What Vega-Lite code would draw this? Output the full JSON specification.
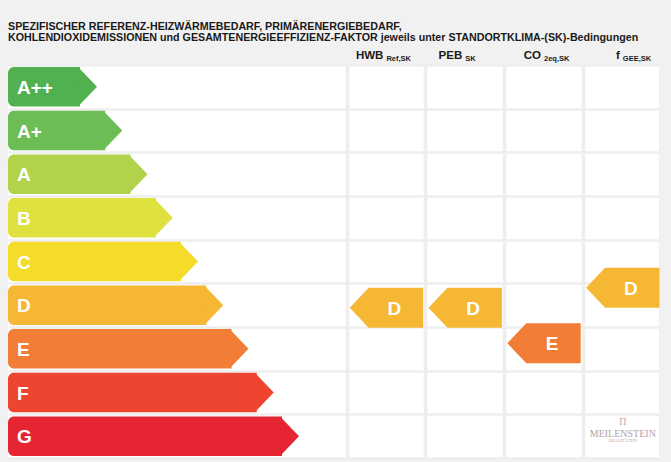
{
  "$schema": "https://vega.github.io/schema/vega-lite/v6.json",
  "width": 651,
  "height": 393,
  "autosize": {"type": "none"},
  "padding": {"left": 8, "top": 65, "right": 12, "bottom": 4},
  "background": "#f1f1f1",
  "view": {"fill": "#ffffff", "stroke": null},
  "config": {
    "axis": {"labels": false, "ticks": false, "domain": false, "title": null},
    "text": {"font": "Liberation Sans"},
    "title": {"font": "Liberation Sans"}
  },
  "title": {
    "text": [
      "SPEZIFISCHER REFERENZ-HEIZWÄRMEBEDARF, PRIMÄRENERGIEBEDARF,",
      "KOHLENDIOXIDEMISSIONEN und GESAMTENERGIEEFFIZIENZ-FAKTOR jeweils unter STANDORTKLIMA-(SK)-Bedingungen"
    ],
    "anchor": "start",
    "frame": "group",
    "fontSize": 10.7,
    "fontWeight": "bold",
    "color": "#1a1a1a",
    "lineHeight": 11,
    "baseline": "bottom",
    "offset": -3
  },
  "datasets": {
    "classes": [
      {"cls": "A++", "rank": 1},
      {"cls": "A+", "rank": 2},
      {"cls": "A", "rank": 3},
      {"cls": "B", "rank": 4},
      {"cls": "C", "rank": 5},
      {"cls": "D", "rank": 6},
      {"cls": "E", "rank": 7},
      {"cls": "F", "rank": 8},
      {"cls": "G", "rank": 9}
    ],
    "columns": [
      {"col": "HWB", "main": "HWB", "sub": "Ref,SK"},
      {"col": "PEB", "main": "PEB", "sub": "SK"},
      {"col": "CO2", "main": "CO", "sub": "2eq,SK"},
      {"col": "GEE", "main": "f", "sub": "GEE,SK"}
    ],
    "ratings": [
      {"col": "HWB", "cls": "D", "pos": 6.06},
      {"col": "PEB", "cls": "D", "pos": 6.06},
      {"col": "CO2", "cls": "E", "pos": 6.87},
      {"col": "GEE", "cls": "D", "pos": 5.6}
    ],
    "logo": [{"col": "GEE", "icon": "Π", "name": "MEILENSTEIN", "sub": "REALITÄTEN"}]
  },
  "resolve": {"scale": {"x": "independent"}},
  "layer": [
    {
      "data": {"name": "classes"},
      "layer": [
        {
          "mark": {"type": "rect", "xOffset": -17, "yOffset": -19.75, "y2Offset": 19.75, "cornerRadiusTopLeft": 6, "cornerRadiusBottomLeft": 6},
          "encoding": {
            "x": {"field": "rank", "type": "quantitative", "scale": {"domain": [-2.525, 23.257], "nice": false, "zero": false}, "axis": null},
            "x2": {"value": 0},
            "y": {"field": "rank", "type": "quantitative", "scale": {"domain": [0.5, 9.5], "nice": false, "zero": false, "reverse": true},
                  "axis": {"values": [0.5, 1, 1.5, 2, 2.5, 3, 3.5, 4, 4.5, 5, 5.5, 6, 6.5, 7, 7.5, 8, 8.5, 9, 9.5], "grid": true, "gridColor": "#eeeeee", "gridWidth": 2.7}},
            "y2": {"field": "rank"},
            "color": {"field": "cls", "type": "nominal", "legend": null,
                      "scale": {"domain": ["A++", "A+", "A", "B", "C", "D", "E", "F", "G"],
                                "range": ["#51b150", "#6cbd55", "#b1d34b", "#dfe13e", "#f5dc2a", "#f6b734", "#f27d36", "#ee4530", "#e52532"]}}
          }
        },
        {
          "mark": {"type": "point", "shape": "M -0.96 -1 L 0 0 L -0.96 1 Z", "size": 1560, "filled": true, "opacity": 1, "strokeWidth": 0},
          "encoding": {
            "x": {"field": "rank", "type": "quantitative", "scale": {"domain": [-2.525, 23.257], "nice": false, "zero": false}, "axis": null},
            "y": {"field": "rank", "type": "quantitative", "scale": {"domain": [0.5, 9.5], "nice": false, "zero": false, "reverse": true}},
            "color": {"field": "cls", "type": "nominal", "legend": null}
          }
        },
        {
          "mark": {"type": "text", "align": "left", "baseline": "middle", "fontWeight": "bold", "fontSize": 19, "color": "#ffffff", "dy": 1},
          "encoding": {
            "x": {"value": 9},
            "y": {"field": "rank", "type": "quantitative", "scale": {"domain": [0.5, 9.5], "nice": false, "zero": false, "reverse": true}},
            "text": {"field": "cls"}
          }
        }
      ]
    },
    {
      "layer": [
        {
          "data": {"name": "ratings"},
          "mark": {"type": "point", "shape": "M 1.835 -1 L -0.885 -1 L -1.835 0 L -0.885 1 L 1.835 1 Z", "size": 1600, "filled": true, "opacity": 1, "strokeWidth": 0},
          "encoding": {
            "x": {"field": "col", "type": "nominal", "sort": null,
                  "scale": {"type": "band", "domain": ["HWB", "PEB", "CO2", "GEE"], "range": [339, 654.2], "paddingInner": 0, "paddingOuter": 0},
                  "axis": {"grid": true, "bandPosition": 0, "gridColor": "#eeeeee", "gridWidth": 3.6}},
            "y": {"field": "pos", "type": "quantitative", "scale": {"domain": [0.5, 9.5], "nice": false, "zero": false, "reverse": true}},
            "color": {"field": "cls", "type": "nominal", "legend": null}
          }
        },
        {
          "data": {"name": "ratings"},
          "mark": {"type": "text", "align": "center", "baseline": "middle", "fontWeight": "bold", "fontSize": 19, "color": "#ffffff", "dx": 8, "dy": 1},
          "encoding": {
            "x": {"field": "col", "type": "nominal", "sort": null,
                  "scale": {"type": "band", "domain": ["HWB", "PEB", "CO2", "GEE"], "range": [339, 654.2], "paddingInner": 0, "paddingOuter": 0}},
            "y": {"field": "pos", "type": "quantitative", "scale": {"domain": [0.5, 9.5], "nice": false, "zero": false, "reverse": true}},
            "text": {"field": "cls"}
          }
        },
        {
          "data": {"name": "columns"},
          "mark": {"type": "text", "align": "right", "baseline": "alphabetic", "fontWeight": "bold", "fontSize": 11.5, "color": "#1a1a1a", "dx": -3},
          "encoding": {
            "x": {"field": "col", "type": "nominal", "sort": null,
                  "scale": {"type": "band", "domain": ["HWB", "PEB", "CO2", "GEE"], "range": [339, 654.2], "paddingInner": 0, "paddingOuter": 0}},
            "y": {"datum": 0.37, "type": "quantitative", "scale": {"domain": [0.5, 9.5], "nice": false, "zero": false, "reverse": true}},
            "text": {"field": "main"}
          }
        },
        {
          "data": {"name": "columns"},
          "mark": {"type": "text", "align": "left", "baseline": "alphabetic", "fontWeight": "bold", "fontSize": 7.5, "color": "#1a1a1a", "dx": 0, "dy": 2},
          "encoding": {
            "x": {"field": "col", "type": "nominal", "sort": null,
                  "scale": {"type": "band", "domain": ["HWB", "PEB", "CO2", "GEE"], "range": [339, 654.2], "paddingInner": 0, "paddingOuter": 0}},
            "y": {"datum": 0.37, "type": "quantitative", "scale": {"domain": [0.5, 9.5], "nice": false, "zero": false, "reverse": true}},
            "text": {"field": "sub"}
          }
        },
        {
          "data": {"name": "logo"},
          "mark": {"type": "text", "align": "center", "baseline": "middle", "font": "Liberation Serif", "fontSize": 10, "color": "#caa3ab"},
          "encoding": {
            "x": {"field": "col", "type": "nominal", "sort": null,
                  "scale": {"type": "band", "domain": ["HWB", "PEB", "CO2", "GEE"], "range": [339, 654.2], "paddingInner": 0, "paddingOuter": 0}},
            "y": {"datum": 8.68, "type": "quantitative", "scale": {"domain": [0.5, 9.5], "nice": false, "zero": false, "reverse": true}},
            "text": {"field": "icon"}
          }
        },
        {
          "data": {"name": "logo"},
          "mark": {"type": "text", "align": "center", "baseline": "middle", "font": "Liberation Serif", "fontSize": 10, "color": "#b4a3a8"},
          "encoding": {
            "x": {"field": "col", "type": "nominal", "sort": null,
                  "scale": {"type": "band", "domain": ["HWB", "PEB", "CO2", "GEE"], "range": [339, 654.2], "paddingInner": 0, "paddingOuter": 0}},
            "y": {"datum": 8.95, "type": "quantitative", "scale": {"domain": [0.5, 9.5], "nice": false, "zero": false, "reverse": true}},
            "text": {"field": "name"}
          }
        },
        {
          "data": {"name": "logo"},
          "mark": {"type": "text", "align": "center", "baseline": "middle", "font": "Liberation Serif", "fontSize": 4.5, "color": "#b4a3a8"},
          "encoding": {
            "x": {"field": "col", "type": "nominal", "sort": null,
                  "scale": {"type": "band", "domain": ["HWB", "PEB", "CO2", "GEE"], "range": [339, 654.2], "paddingInner": 0, "paddingOuter": 0}},
            "y": {"datum": 9.11, "type": "quantitative", "scale": {"domain": [0.5, 9.5], "nice": false, "zero": false, "reverse": true}},
            "text": {"field": "sub"}
          }
        }
      ]
    }
  ]
}
